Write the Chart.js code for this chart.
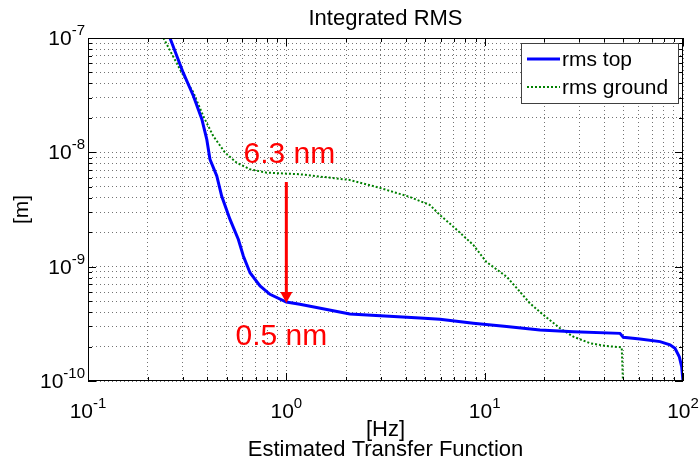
<!DOCTYPE html>
<html>
<head>
<meta charset="utf-8">
<script src="https://cdn.jsdelivr.net/npm/chart.js@4.4.1/dist/chart.umd.min.js"></script>
<style>
  html, body { margin: 0; padding: 0; background: #fff; }
</style>
</head>
<body>
<canvas id="rms" width="700" height="461"></canvas>
<script>
// rms top (blue, solid)
const freqTop = [0.259, 0.302, 0.340, 0.375, 0.397, 0.412, 0.446, 0.472, 0.520, 0.573, 0.607, 0.656, 0.737, 0.827, 1.0, 1.17, 2.09, 4.72, 5.95, 8.76, 12.9, 19.0, 28.0, 48.1, 50.0, 60.7, 76.6, 86.0, 91.1, 95.8, 98.5, 100];
const rmsTop = [1.0e-7, 4.97e-8, 3.11e-8, 1.95e-8, 1.30e-8, 8.69e-9, 6.21e-9, 4.15e-9, 2.59e-9, 1.73e-9, 1.24e-9, 8.85e-10, 6.78e-10, 5.73e-10, 4.9e-10, 4.69e-10, 3.85e-10, 3.56e-10, 3.47e-10, 3.20e-10, 2.99e-10, 2.79e-10, 2.70e-10, 2.61e-10, 2.41e-10, 2.33e-10, 2.21e-10, 2.07e-10, 1.93e-10, 1.63e-10, 1.33e-10, 1.0e-10];

// rms ground (green, dotted)
const freqGround = [0.240, 0.297, 0.340, 0.381, 0.428, 0.491, 0.562, 0.656, 0.796, 1.17, 2.09, 2.97, 4.20, 5.30, 5.95, 6.95, 8.76, 10.2, 12.9, 14.8, 16.9, 19.8, 24.0, 28.0, 34.0, 41.2, 49.1, 49.8];
const rmsGround = [1.0e-7, 4.97e-8, 3.33e-8, 2.08e-8, 1.39e-8, 9.93e-9, 8.11e-9, 7.11e-9, 6.64e-9, 6.43e-9, 5.73e-9, 4.88e-9, 4.07e-9, 3.46e-9, 2.83e-9, 2.24e-9, 1.55e-9, 1.10e-9, 8.17e-10, 6.25e-10, 4.78e-10, 3.78e-10, 2.89e-10, 2.44e-10, 2.14e-10, 2.02e-10, 1.97e-10, 1.0e-10];

// decade ticks: base 10 with these exponents
const xDecades = [0.1, 1, 10, 100];
const xTickExp = ['-1', '0', '1', '2'];
const yDecades = [1e-10, 1e-9, 1e-8, 1e-7];
const yTickExp = ['-10', '-9', '-8', '-7'];

// red arrow annotation at 1 Hz
const arrowFreq = 1;
const arrowFrom = 5.5e-9;
const arrowTo = 4.8e-10;
const noteFrom = '6.3 nm';
const noteTo = '0.5 nm';

const FONT = "'Liberation Sans', Arial, sans-serif";
Chart.defaults.font.family = FONT;
Chart.defaults.color = '#000';

function logTicks(decades) {
  const t = [];
  for (let i = 0; i < decades.length - 1; i++) {
    for (let m = 1; m < 10; m++) t.push({ value: decades[i] * m });
  }
  t.push({ value: decades[decades.length - 1] });
  return t;
}

function isDecade(v) {
  const l = Math.log10(v);
  return Math.abs(l - Math.round(l)) < 1e-6;
}

const toPoints = (xs, ys) => xs.map((x, i) => ({ x: x, y: ys[i] }));

// "10" with a raised exponent; align: 'center' or 'right'
function powerLabel(ctx, exp, x, baseY, align) {
  ctx.font = '21px ' + FONT;
  const wb = ctx.measureText('10').width;
  ctx.font = '15px ' + FONT;
  const we = ctx.measureText(exp).width;
  const left = align === 'center' ? x - (wb + we) / 2 : x - wb - we;
  ctx.textAlign = 'left';
  ctx.textBaseline = 'alphabetic';
  ctx.font = '21px ' + FONT;
  ctx.fillText('10', left, baseY);
  ctx.font = '15px ' + FONT;
  ctx.fillText(exp, left + wb, baseY - 10);
}

// frame, inward ticks, tick labels, arrow, notes and legend
const extras = {
  id: 'extras',
  afterDatasetsDraw(chart) {
    const { ctx, chartArea: a, scales: { x, y } } = chart;
    ctx.save();
    ctx.strokeStyle = '#000';
    ctx.lineWidth = 1;
    ctx.strokeRect(a.left + 0.5, a.top + 0.5, a.right - a.left - 1, a.bottom - a.top - 1);

    ctx.beginPath();
    x.ticks.forEach(t => {
      const px = Math.round(x.getPixelForValue(t.value)) + 0.5;
      const len = isDecade(t.value) ? 8 : 4;
      ctx.moveTo(px, a.bottom); ctx.lineTo(px, a.bottom - len);
      ctx.moveTo(px, a.top); ctx.lineTo(px, a.top + len);
    });
    y.ticks.forEach(t => {
      const py = Math.round(y.getPixelForValue(t.value)) + 0.5;
      const len = isDecade(t.value) ? 8 : 4;
      ctx.moveTo(a.left, py); ctx.lineTo(a.left + len, py);
      ctx.moveTo(a.right, py); ctx.lineTo(a.right - len, py);
    });
    ctx.stroke();

    // tick labels
    ctx.fillStyle = '#000';
    xDecades.forEach((v, i) => powerLabel(ctx, xTickExp[i], x.getPixelForValue(v), a.bottom + 37, 'center'));
    yDecades.forEach((v, i) => powerLabel(ctx, yTickExp[i], a.left - 3, y.getPixelForValue(v) + 7, 'right'));

    // arrow
    const ax = x.getPixelForValue(arrowFreq);
    const ay1 = y.getPixelForValue(arrowFrom);
    const ay2 = y.getPixelForValue(arrowTo);
    ctx.strokeStyle = '#ff0000';
    ctx.fillStyle = '#ff0000';
    ctx.lineWidth = 3;
    ctx.beginPath();
    ctx.moveTo(ax, ay1);
    ctx.lineTo(ax, ay2 - 10);
    ctx.stroke();
    ctx.beginPath();
    ctx.moveTo(ax - 6, ay2 - 11);
    ctx.lineTo(ax + 6, ay2 - 11);
    ctx.lineTo(ax, ay2);
    ctx.closePath();
    ctx.fill();

    ctx.font = '30px ' + FONT;
    ctx.textAlign = 'center';
    ctx.textBaseline = 'alphabetic';
    ctx.fillText(noteFrom, ax + 3, ay1 - 19);
    ctx.fillText(noteTo, ax - 5, ay2 + 42);

    // legend
    const lw = 157, lh = 60;
    const lx = a.right - 162, ly = a.top + 5;
    ctx.fillStyle = '#fff';
    ctx.fillRect(lx, ly, lw, lh);
    ctx.strokeStyle = '#404040';
    ctx.lineWidth = 1;
    ctx.strokeRect(lx + 0.5, ly + 0.5, lw, lh);
    ctx.font = '21px ' + FONT;
    ctx.textAlign = 'left';
    ctx.textBaseline = 'middle';
    chart.data.datasets.forEach((ds, i) => {
      const ry = ly + 16 + i * 28;
      ctx.strokeStyle = ds.borderColor;
      ctx.lineWidth = ds.borderWidth;
      ctx.setLineDash(ds.borderDash || []);
      ctx.beginPath();
      ctx.moveTo(lx + 6, ry);
      ctx.lineTo(lx + 39, ry);
      ctx.stroke();
      ctx.setLineDash([]);
      ctx.fillStyle = '#000';
      ctx.fillText(ds.label, lx + 41, ry + 1);
    });
    ctx.restore();
  }
};

new Chart(document.getElementById('rms'), {
  type: 'line',
  data: {
    datasets: [
      {
        label: 'rms top',
        data: toPoints(freqTop, rmsTop),
        borderColor: '#0000ff',
        borderWidth: 3,
        pointRadius: 0,
        tension: 0,
        fill: false
      },
      {
        label: 'rms ground',
        data: toPoints(freqGround, rmsGround),
        borderColor: '#008000',
        borderWidth: 2,
        borderDash: [2, 2],
        pointRadius: 0,
        tension: 0,
        fill: false
      }
    ]
  },
  options: {
    responsive: false,
    animation: false,
    devicePixelRatio: 1,
    layout: { padding: { left: 0, right: 17, top: 0, bottom: 0 } },
    plugins: {
      legend: { display: false },
      tooltip: { enabled: false },
      title: {
        display: true,
        fullSize: false,
        text: 'Integrated RMS',
        color: '#000',
        font: { size: 22, weight: 'normal', lineHeight: 1 },
        padding: { top: 8, bottom: 8 }
      }
    },
    scales: {
      x: {
        type: 'logarithmic',
        min: 0.1,
        max: 100,
        afterBuildTicks: s => { s.ticks = logTicks(xDecades); },
        afterFit: s => { s.height = 80; s.paddingLeft = 0; s.paddingRight = 0; },
        ticks: { display: false, autoSkip: false },
        grid: { color: 'rgba(0,0,0,0.55)', drawTicks: false },
        border: { display: false, dash: [1, 3] },
        title: {
          display: true,
          text: ['[Hz]', 'Estimated Transfer Function'],
          color: '#000',
          font: { size: 22, lineHeight: '20px' },
          padding: { top: 0, bottom: 1 }
        }
      },
      y: {
        type: 'logarithmic',
        min: 1e-10,
        max: 1e-7,
        afterBuildTicks: s => { s.ticks = logTicks(yDecades); },
        afterFit: s => { s.width = 88; s.paddingTop = 0; s.paddingBottom = 0; },
        ticks: { display: false, autoSkip: false },
        grid: { color: 'rgba(0,0,0,0.55)', drawTicks: false },
        border: { display: false, dash: [1, 3] },
        title: {
          display: true,
          text: '[m]',
          color: '#000',
          font: { size: 21, lineHeight: '19px' },
          padding: { top: 13, bottom: 0 }
        }
      }
    }
  },
  plugins: [extras]
});
</script>
</body>
</html>
